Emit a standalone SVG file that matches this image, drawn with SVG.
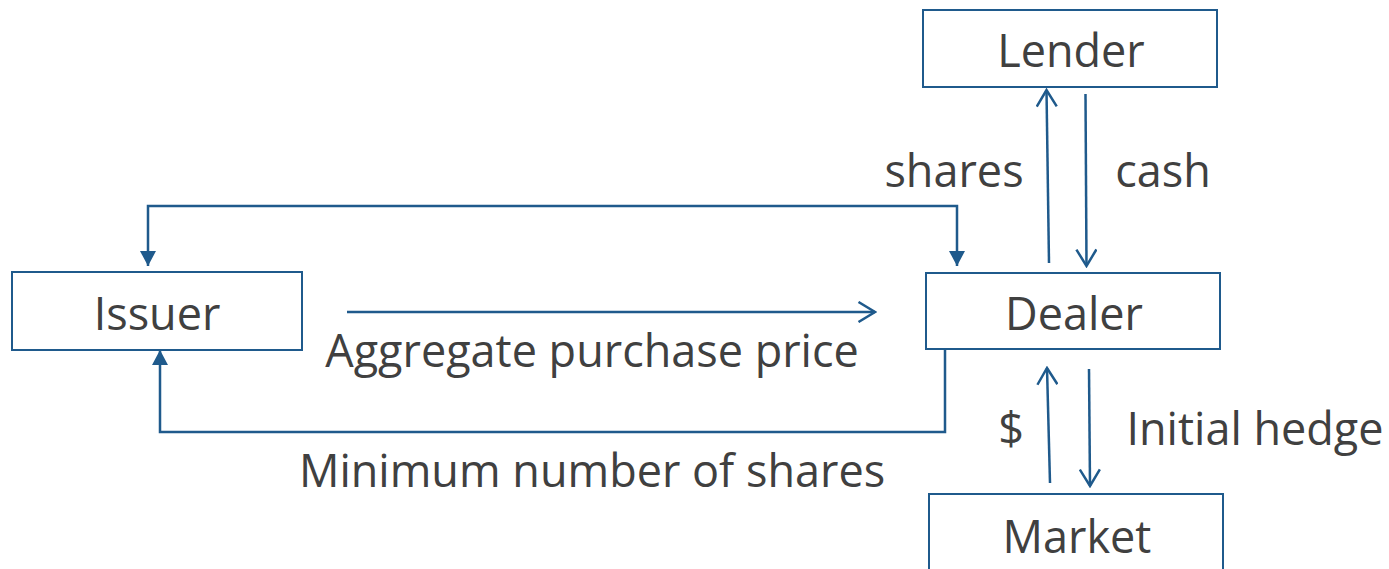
<svg xmlns="http://www.w3.org/2000/svg" width="1389" height="569" viewBox="0 0 1389 569">
<style>
.box{fill:#fff;stroke:#1f5a8c;stroke-width:2}
.t{font-family:"Open Sans","Noto Sans",sans-serif;font-size:45px;fill:#404040;text-anchor:middle}
.c{fill:none;stroke:#1f5a8c;stroke-width:2.5}
</style>
<defs>
<marker id="open" markerWidth="20" markerHeight="22" viewBox="0 0 20 22" refX="18" refY="11" orient="auto" markerUnits="userSpaceOnUse">
<path d="M1.5,1 L18,11 L1.5,21" fill="none" stroke="#1f5a8c" stroke-width="2.5"/>
</marker>
<marker id="fill" markerWidth="15" markerHeight="16" viewBox="0 0 15 16" refX="15" refY="8" orient="auto" markerUnits="userSpaceOnUse">
<path d="M0,0 L15,8 L0,16 Z" fill="#1f5a8c"/>
</marker>
<marker id="fillr" markerWidth="15" markerHeight="16" viewBox="0 0 15 16" refX="15" refY="8" orient="auto-start-reverse" markerUnits="userSpaceOnUse">
<path d="M0,0 L15,8 L0,16 Z" fill="#1f5a8c"/>
</marker>
</defs>
<rect width="1389" height="569" fill="#fff"/>
<g id="connectors">
<path class="c" d="M1049,263 L1046.5,90" marker-end="url(#open)"/>
<path class="c" d="M1085.5,94 L1086.5,266" marker-end="url(#open)"/>
<path class="c" d="M347,312 L875,312" marker-end="url(#open)"/>
<path class="c" d="M1050,483 L1047,368" marker-end="url(#open)"/>
<path class="c" d="M1089,369 L1090,486" marker-end="url(#open)"/>
<path class="c" d="M148,266 L148,206 L957,206 L957,266" marker-end="url(#fill)" marker-start="url(#fillr)"/>
<path class="c" d="M945,349 L945,432 L160,432 L160,350" marker-end="url(#fill)"/>
</g>
<g id="lender"><rect class="box" x="923" y="10" width="294" height="77"/><text class="t" x="1071" y="67">Lender</text></g>
<g id="dealer"><rect class="box" x="926" y="273" width="294" height="76"/><text class="t" x="1074" y="330">Dealer</text></g>
<g id="issuer"><rect class="box" x="12" y="272" width="290" height="78"/><text class="t" x="157" y="330">Issuer</text></g>
<g id="market"><rect class="box" x="929" y="494" width="294" height="90"/><text class="t" x="1077" y="553">Market</text></g>
<g id="labels">
<text class="t" x="954" y="187">shares</text>
<text class="t" x="1163" y="187">cash</text>
<text class="t" x="592" y="367">Aggregate purchase price</text>
<text class="t" x="592" y="487">Minimum number of shares</text>
<text class="t" x="1011" y="445">$</text>
<text class="t" x="1255" y="445">Initial hedge</text>
</g>
</svg>
